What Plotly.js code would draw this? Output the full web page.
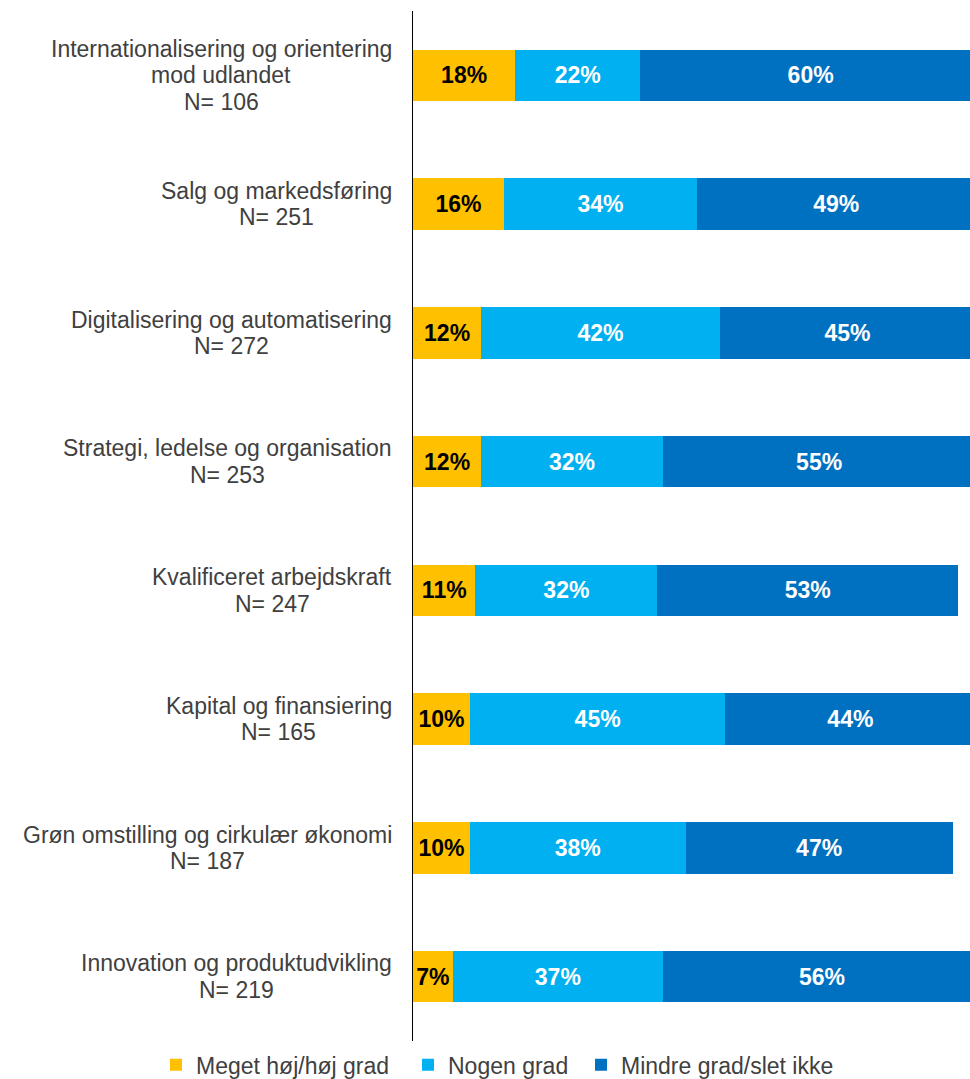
<!DOCTYPE html>
<html><head><meta charset="utf-8">
<script src="https://cdn.plot.ly/plotly-3.0.1.min.js"></script>
<style>html,body{margin:0;padding:0;overflow:hidden;background:#fff}#chart{width:1000px;height:1079px}</style>
</head><body><div id="chart"></div>
<script>
const categories = [
  "Internationalisering og orientering<br>mod udlandet",
  "Salg og markedsføring",
  "Digitalisering og automatisering",
  "Strategi, ledelse og organisation",
  "Kvalificeret arbejdskraft",
  "Kapital og finansiering",
  "Grøn omstilling og cirkulær økonomi",
  "Innovation og produktudvikling"
];
const nValues = [106, 251, 272, 253, 247, 165, 187, 219];
const highValues = [18, 16, 12, 12, 11, 10, 10, 7];
const someValues = [22, 34, 42, 32, 32, 45, 38, 37];
const lowValues  = [60, 49, 45, 55, 53, 44, 47, 56];
const seriesNames = ["Meget høj/høj grad", "Nogen grad", "Mindre grad/slet ikke"];

const FONT = '"Liberation Sans", Arial, sans-serif';
const LABEL_SIZE = 23;
const LINE_STEP = 26.5;
const colors = ["#FFC000", "#00B0F0", "#0070C0"];
const textColors = ["#000000", "#FFFFFF", "#FFFFFF"];
const legendIds = ["legend", "legend2", "legend3"];
const legendX = [-0.4525, -0.0088, 0.2958];
const series = [highValues, someValues, lowValues];

const traces = series.map((vals, i) => ({
  type: 'bar', orientation: 'h', y: categories, x: vals, name: seriesNames[i],
  legend: legendIds[i],
  marker: {color: colors[i]},
  texttemplate: '<b>%{x}%</b>', textposition: 'inside', insidetextanchor: 'middle',
  textangle: 0, constraintext: 'none',
  insidetextfont: {family: FONT, size: 23, color: textColors[i]},
  hoverinfo: 'skip'
}));

// category labels: centred multi-line blocks, right edge next to the axis
const ctx = document.createElement('canvas').getContext('2d');
ctx.font = LABEL_SIZE + 'px "Liberation Sans", Arial, sans-serif';
const annotations = [];
categories.forEach((c, i) => {
  const lines = c.split('<br>').concat(['N= ' + nValues[i]]);
  const w = Math.max(...lines.map(l => ctx.measureText(l).width));
  lines.forEach((l, j) => {
    annotations.push({
      xref: 'paper', x: 0, xanchor: 'center', xshift: -21 - w / 2,
      yref: 'y', y: c, yanchor: 'middle', yshift: ((lines.length - 1) / 2 - j) * LINE_STEP,
      text: l, showarrow: false,
      font: {family: FONT, size: LABEL_SIZE, color: '#404040'}
    });
  });
});

const layout = {
  width: 1000, height: 1079,
  margin: {l: 413, r: 19, t: 11, b: 38, autoexpand: false},
  paper_bgcolor: '#fff', plot_bgcolor: '#fff',
  barmode: 'stack', bargap: 0.6,
  font: {family: FONT, color: '#404040'},
  xaxis: {range: [0, 100], visible: false, fixedrange: true},
  yaxis: {type: 'category', autorange: 'reversed', showline: true, linecolor: '#000', linewidth: 1.5,
          showticklabels: false, ticks: '', showgrid: false, zeroline: false},
  showlegend: true,
  annotations: annotations
};
legendIds.forEach((id, i) => {
  layout[id] = {orientation: 'h', xref: 'paper', x: legendX[i], xanchor: 'left',
                yref: 'paper', y: -0.023, yanchor: 'middle', bgcolor: 'rgba(0,0,0,0)',
                font: {family: FONT, size: 23, color: '#404040'}};
});

Plotly.newPlot('chart', traces, layout, {displayModeBar: false, staticPlot: true});
</script></body></html>
